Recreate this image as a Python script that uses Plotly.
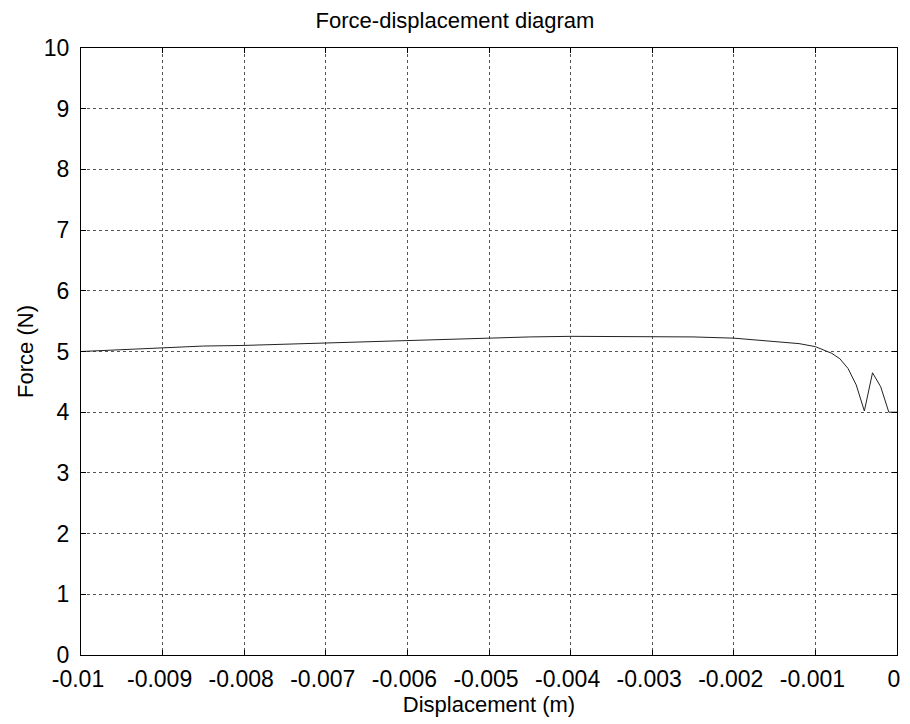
import plotly.graph_objects as go

displacement = [-0.01, -0.0095, -0.009, -0.0085, -0.008, -0.0075, -0.007, -0.0065, -0.006,
                -0.0055, -0.005, -0.0045, -0.004, -0.0035, -0.003, -0.0025, -0.002, -0.0015,
                -0.0012, -0.001, -0.0008, -0.0007, -0.0006, -0.0005, -0.0004, -0.0003,
                -0.0002, -0.0001, 0.0]
force = [5.0, 5.03, 5.07, 5.09, 5.1, 5.12, 5.15, 5.16, 5.18,
         5.2, 5.22, 5.24, 5.25, 5.25, 5.25, 5.24, 5.22, 5.17,
         5.13, 5.08, 4.97, 4.88, 4.72, 4.45, 4.02, 4.65,
         4.42, 4.0, 4.0]

x_ticks = [-0.01, -0.009, -0.008, -0.007, -0.006, -0.005, -0.004, -0.003, -0.002, -0.001, 0]
x_tick_labels = ["-0.01", "-0.009", "-0.008", "-0.007", "-0.006", "-0.005", "-0.004",
                 "-0.003", "-0.002", "-0.001", "0"]
y_ticks = list(range(0, 11))

font_family = "Liberation Sans, Arial, sans-serif"

fig = go.Figure()
fig.add_trace(go.Scatter(x=displacement, y=force, mode="lines",
                         line=dict(color="#222222", width=1), showlegend=False))

axis_common = dict(
    showline=True, linecolor="black", linewidth=1, mirror="ticks",
    ticks="inside", ticklen=5, tickcolor="black",
    showgrid=True, gridcolor="#555555", gridwidth=1, griddash="3px,3px",
    zeroline=False, tickfont=dict(size=23, color="black", family=font_family),
)

fig.update_xaxes(range=[-0.01, 0], tickvals=x_ticks, ticktext=x_tick_labels,
                 ticklabelstandoff=3, ticklabelshift=-3,
                 title=dict(text="Displacement (m)", font=dict(size=22, color="black", family=font_family), standoff=4),
                 **axis_common)
fig.update_yaxes(range=[0, 10], tickvals=y_ticks, ticklabelstandoff=6,
                 title=dict(text="Force (N)", font=dict(size=22, color="black", family=font_family), standoff=4),
                 **axis_common)

fig.update_layout(
    width=910, height=724,
    margin=dict(l=81, r=10, t=48, b=69),
    paper_bgcolor="white", plot_bgcolor="white",
    title=dict(text="Force-displacement diagram", x=0.5, xanchor="center", y=0.972, yanchor="middle",
               font=dict(size=22, color="black", family=font_family)),
    font=dict(family=font_family, color="black"),
)

fig.write_html("out.html")
